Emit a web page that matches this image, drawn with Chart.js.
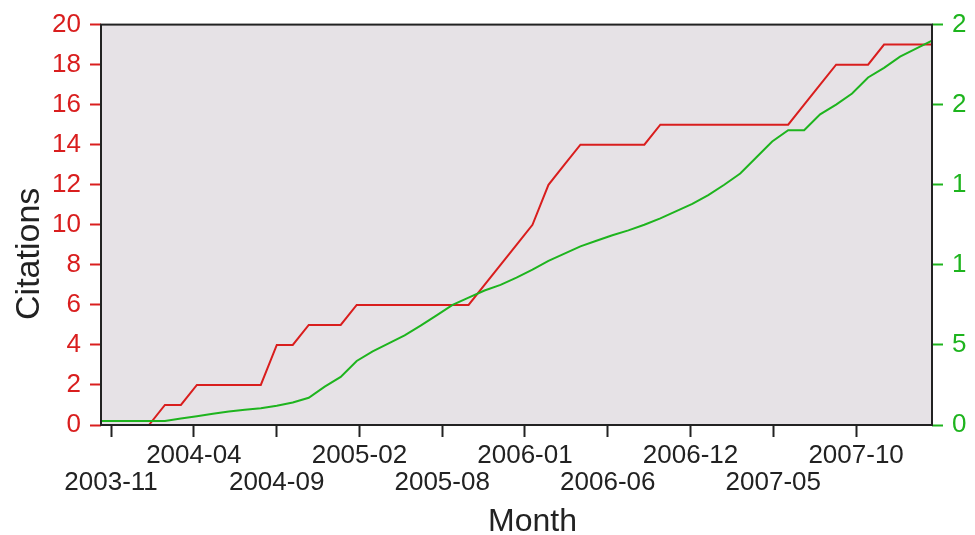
<!DOCTYPE html>
<html>
<head>
<meta charset="utf-8">
<script src="https://cdn.jsdelivr.net/npm/chart.js@4"></script>
<style>
  body { margin: 0; background: #fff; }
  .chart-wrap { width: 966px; height: 535px; }
</style>
</head>
<body>
<div class="chart-wrap"><canvas class="js-citations"></canvas></div>
<script>
// months 2003-10 .. 2008-02, one point per month
const months = [
  "2003-10", "2003-11", "2003-12", "2004-01", "2004-02", "2004-03", "2004-04", "2004-05", "2004-06",
  "2004-07", "2004-08", "2004-09", "2004-10", "2004-11", "2004-12", "2005-01", "2005-02", "2005-03",
  "2005-04", "2005-05", "2005-06", "2005-07", "2005-08", "2005-09", "2005-10", "2005-11", "2005-12",
  "2006-01", "2006-02", "2006-03", "2006-04", "2006-05", "2006-06", "2006-07", "2006-08", "2006-09",
  "2006-10", "2006-11", "2006-12", "2007-01", "2007-02", "2007-03", "2007-04", "2007-05", "2007-06",
  "2007-07", "2007-08", "2007-09", "2007-10", "2007-11", "2007-12", "2008-01", "2008-02"
];

const citations = [
  0, 0, 0, 0, 1, 1, 2, 2, 2, 2, 2, 4, 4, 5, 5, 5, 6, 6, 6, 6, 6, 6, 6, 6,
  7, 8, 9, 10, 12, 13, 14, 14, 14, 14, 14, 15, 15, 15, 15, 15, 15, 15, 15, 15,
  16, 17, 18, 18, 18, 19, 19, 19, 19
];

const others = [
  2.5, 2.5, 2.5, 2.5, 2.5, 4, 5.5, 7, 8.5, 9.5, 10.5, 12, 14, 17, 24, 30, 40, 46,
  51, 56, 62, 68.5, 75, 79.5, 84, 87.5, 92, 97, 102.5, 107, 111.5, 115, 118.5, 121.5,
  125, 129, 133.5, 138, 143.5, 150, 157, 167, 177, 184, 184, 194, 200, 207, 217,
  223, 230, 235, 240
];

// x ticks fall every ~5.2 months, labels alternate between two rows
const tickPos = [0.63, 5.81, 10.99, 16.17, 21.35, 26.53, 31.71, 36.89, 42.07, 47.25];
const tickLabels = ["2003-11", "2004-04", "2004-09", "2005-02", "2005-08", "2006-01", "2006-06", "2006-12", "2007-05", "2007-10"];

const RED = "#d91e1e";
const GREEN = "#1eb41e";
const FONT = "'Liberation Sans', Arial, sans-serif";

const plotFrame = {
  id: "plotFrame",
  beforeDraw(chart) {
    const { ctx, chartArea: a } = chart;
    ctx.save();
    ctx.fillStyle = "#e6e2e6";
    ctx.fillRect(a.left, a.top, a.width, a.height);
    ctx.restore();
  },
  afterDraw(chart) {
    const { ctx, chartArea: a } = chart;
    ctx.save();
    ctx.strokeStyle = "#222";
    ctx.lineWidth = 2;
    ctx.strokeRect(a.left, a.top, a.width, a.height);
    // axis titles, placed a bit off centre as in the original
    ctx.fillStyle = "#222";
    ctx.textAlign = "center";
    ctx.textBaseline = "middle";
    ctx.font = "32px " + FONT;
    ctx.fillText("Month", (a.left + a.right) / 2 + 16, 522);
    ctx.translate(30, (a.top + a.bottom) / 2 + 29);
    ctx.rotate(-Math.PI / 2);
    ctx.font = "34px " + FONT;
    ctx.fillText("Citations", 0, 0);
    ctx.restore();
  },
};

const chartcitations = function () {
  const el = document.querySelector(".js-citations");

  new Chart(el, {
    type: "line",
    data: {
      datasets: [
        {
          label: "Total",
          data: others.map((v, i) => ({ x: i, y: v })),
          borderColor: GREEN,
          borderWidth: 2,
          pointRadius: 0,
          yAxisID: "y2",
        },
        {
          label: "Citations",
          data: citations.map((v, i) => ({ x: i, y: v })),
          borderColor: RED,
          borderWidth: 2,
          pointRadius: 0,
          yAxisID: "y",
        },
      ],
    },
    options: {
      animation: false,
      responsive: true,
      maintainAspectRatio: false,
      layout: { padding: { top: 24, left: 0, right: 0, bottom: 0 } },
      scales: {
        x: {
          type: "linear",
          min: 0,
          max: months.length - 1,
          afterFit: (scale) => { scale.height = 110; },
          afterBuildTicks: (scale) => {
            scale.ticks = tickPos.map((v) => ({ value: v }));
          },
          border: { display: false },
          grid: { drawOnChartArea: false, tickLength: 12, tickWidth: 2, tickColor: "#222" },
          ticks: {
            autoSkip: false,
            maxRotation: 0,
            padding: 5,
            color: "#222",
            font: { family: FONT, size: 26, lineHeight: 1.04 },
            callback: (value, index) => (index % 2 == 0 ? ["", tickLabels[index]] : [tickLabels[index], ""]),
          },
        },
        y: {
          position: "left",
          min: 0,
          max: 20,
          afterFit: (scale) => { scale.width = 101; },
          border: { display: false },
          grid: { drawOnChartArea: false, tickLength: 11, tickWidth: 2, tickColor: RED },
          ticks: { stepSize: 2, padding: 9, color: RED, font: { family: FONT, size: 26 } },
        },
        y2: {
          position: "right",
          min: 0,
          max: 250,
          afterFit: (scale) => { scale.width = 34; },
          border: { display: false },
          grid: { drawOnChartArea: false, tickLength: 11, tickWidth: 2, tickColor: GREEN },
          ticks: { stepSize: 50, padding: 9, color: GREEN, font: { family: FONT, size: 26 } },
        },
      },
      plugins: {
        legend: { display: false },
        tooltip: { enabled: false },
      },
    },
    plugins: [plotFrame],
  });
};

const init = function () {
  if (document.querySelector(".js-citations")) {
    chartcitations();
  }
};

document.addEventListener("DOMContentLoaded", init);
</script>
</body>
</html>
